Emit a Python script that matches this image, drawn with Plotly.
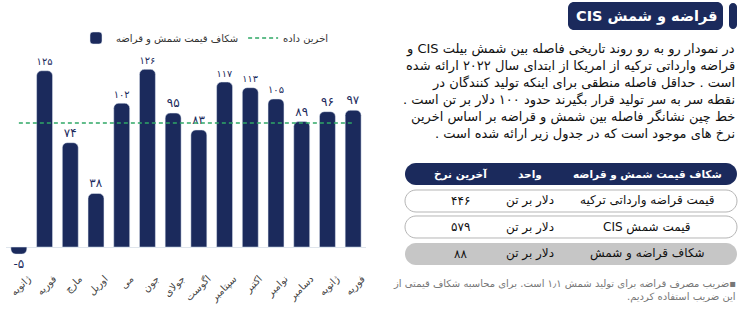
import plotly.graph_objects as go

W, H = 742, 316
NAVY = "#1b2a5c"
GREEN = "#2fa866"

# ---------------- data ----------------
months = ["ژانویه", "فوریه", "مارچ", "اوریل", "می", "جون", "جولای",
          "اگوست", "سپتامبر", "اکتبر", "نوامبر", "دسامبر", "ژانویه", "فوریه"]
gap_values = [-5, 125, 74, 38, 102, 126, 95, 83, 117, 113, 105, 89, 96, 97]

table_header = ["شکاف قیمت شمش و قراضه", "واحد", "آخرین نرخ"]
table_items = ["قیمت قراضه وارداتی ترکیه", "قیمت شمش CIS", "شکاف قراضه و شمش"]
table_units = ["دلار بر تن", "دلار بر تن", "دلار بر تن"]
table_rates = [446, 579, 88]

title_text = "قراضه و شمش CIS"
paragraph_lines = [
    "در نمودار رو به رو روند تاریخی فاصله بین شمش بیلت CIS و",
    "قراضه وارداتی ترکیه از امریکا از ابتدای سال ۲۰۲۲ ارائه شده",
    "است . حداقل فاصله منطقی برای اینکه تولید کنندگان در",
    "نقطه سر به سر تولید قرار بگیرند حدود ۱۰۰ دلار بر تن است .",
    "خط چین نشانگر فاصله بین شمش و قراضه بر اساس اخرین",
    "نرخ های موجود است که در جدول زیر ارائه شده است .",
]
footnote_lines = [
    "▪ضریب مصرف قراضه برای تولید شمش ۱٫۱ است. برای محاسبه شکاف قیمتی از",
    "این ضریب استفاده کردیم.",
]
bar_name = "شکاف قیمت شمش و قراضه"
line_name = "اخرین داده"

# ---------------- helpers ----------------
FA = str.maketrans("0123456789", "۰۱۲۳۴۵۶۷۸۹")


def fa(n):
    return str(n).translate(FA)


def rtl(s):
    return "\u202b" + s + "\u202c"


def P(x, y):
    return x / W, 1 - y / H


def rrect(x0, y0, x1, y1, r):
    k = 0.5523 * r
    pts = [("M", [(x0 + r, y0)]), ("L", [(x1 - r, y0)]),
           ("C", [(x1 - r + k, y0), (x1, y0 + r - k), (x1, y0 + r)]),
           ("L", [(x1, y1 - r)]),
           ("C", [(x1, y1 - r + k), (x1 - r + k, y1), (x1 - r, y1)]),
           ("L", [(x0 + r, y1)]),
           ("C", [(x0 + r - k, y1), (x0, y1 - r + k), (x0, y1 - r)]),
           ("L", [(x0, y0 + r)]),
           ("C", [(x0, y0 + r - k), (x0 + r - k, y0), (x0 + r, y0)])]
    out = ""
    for cmd, ps in pts:
        out += cmd + " ".join("%.5f,%.5f" % P(px, py) for px, py in ps)
    return out + "Z"


x_idx = list(range(len(months)))
last_gap = table_rates[-1]

fig = go.Figure()
fig.add_trace(go.Bar(
    x=x_idx, y=gap_values, name=bar_name,
    marker=dict(color=NAVY, cornerradius=5),
    text=[fa(v) for v in gap_values], textposition="outside",
    textfont=dict(color=NAVY, size=12, family="DejaVu Sans"),
    cliponaxis=False, hoverinfo="skip",
))
fig.add_trace(go.Scatter(
    x=[x_idx[0], x_idx[-1]], y=[last_gap, last_gap], mode="lines", name=line_name,
    line=dict(color=GREEN, width=1.5, dash="4px,3px"), hoverinfo="skip",
))

# plot area geometry
xl, xr = 6, 366
yt, yb = 30, 262
fig.update_layout(
    width=W, height=H, margin=dict(l=0, r=0, t=0, b=0),
    paper_bgcolor="white", plot_bgcolor="white",
    bargap=0.38, showlegend=True,
    legend=dict(orientation="h", x=76 / W, xanchor="left", y=1 - 38 / H, yanchor="middle",
                font=dict(size=10, color="#333", family="DejaVu Sans"),
                bgcolor="rgba(0,0,0,0)", itemwidth=30, traceorder="normal"),
    xaxis=dict(domain=[xl / W, xr / W], range=[-0.5, len(months) - 0.5],
               tickvals=x_idx, ticktext=months, tickangle=-45,
               tickfont=dict(size=10, color="#444", family="DejaVu Sans"),
               ticklabelshift=9, ticklabelstandoff=8, ticklabeloverflow="allow",
               showgrid=False, zeroline=False, showline=False, ticks="", automargin=False,
               fixedrange=True),
    yaxis=dict(domain=[1 - yb / H, 1 - yt / H], range=[-10.6, 153.9],
               showticklabels=False, showgrid=False, zeroline=True,
               zerolinecolor="#dfe5ec", zerolinewidth=1, showline=False, automargin=False,
               fixedrange=True),
)

shapes = []
annos = []
# heading
shapes.append(dict(type="path", xref="paper", yref="paper", path=rrect(568, 2, 723, 30, 6),
                   fillcolor=NAVY, line=dict(width=0)))
shapes.append(dict(type="path", xref="paper", yref="paper", path=rrect(729, 3, 737, 29, 4),
                   fillcolor=NAVY, line=dict(width=0)))
annos.append(dict(text="<b>" + rtl(title_text) + "</b>", x=646 / W, y=1 - 16 / H,
                  xref="paper", yref="paper", showarrow=False, xanchor="center", yanchor="middle",
                  font=dict(size=14.5, color="white", family="DejaVu Sans")))

# paragraph
para_y = [49, 66, 83, 100, 117, 134]
for line, yy in zip(paragraph_lines, para_y):
    annos.append(dict(text=rtl(line), x=737 / W, y=1 - yy / H, xref="paper", yref="paper",
                      showarrow=False, xanchor="right", yanchor="middle",
                      font=dict(size=13, color="#111", family="DejaVu Sans")))

# table
col_x = [647, 530, 460]
shapes.append(dict(type="path", xref="paper", yref="paper", path=rrect(405, 163, 737, 185, 11),
                   fillcolor=NAVY, line=dict(width=0)))
for txt, cx in zip(table_header, col_x):
    annos.append(dict(text="<b>" + rtl(txt) + "</b>", x=cx / W, y=1 - 174 / H, xref="paper",
                      yref="paper", showarrow=False, xanchor="center", yanchor="middle",
                      font=dict(size=10.5, color="white", family="DejaVu Sans")))
row_y = [(190, 212), (216, 238), (243, 265)]
for i, (y0, y1) in enumerate(row_y):
    last = i == len(row_y) - 1
    shapes.append(dict(type="path", xref="paper", yref="paper", path=rrect(405, y0, 737, y1, 11),
                       fillcolor="#c6c6c6" if last else "white",
                       line=dict(width=0 if last else 1, color="#b5b5b5")))
    cy = (y0 + y1) / 2
    for txt, cx in zip([table_items[i], table_units[i], fa(table_rates[i])], col_x):
        annos.append(dict(text=rtl(txt), x=cx / W, y=1 - cy / H, xref="paper", yref="paper",
                          showarrow=False, xanchor="center", yanchor="middle",
                          font=dict(size=12, color="#111", family="DejaVu Sans")))

# footnote
for line, yy in zip(footnote_lines, [283, 297]):
    annos.append(dict(text=rtl(line), x=738 / W, y=1 - yy / H, xref="paper", yref="paper",
                      showarrow=False, xanchor="right", yanchor="middle",
                      font=dict(size=10, color="#777", family="DejaVu Sans")))

fig.update_layout(shapes=shapes, annotations=annos)
fig.write_html("out.html", config={"displayModeBar": False})
